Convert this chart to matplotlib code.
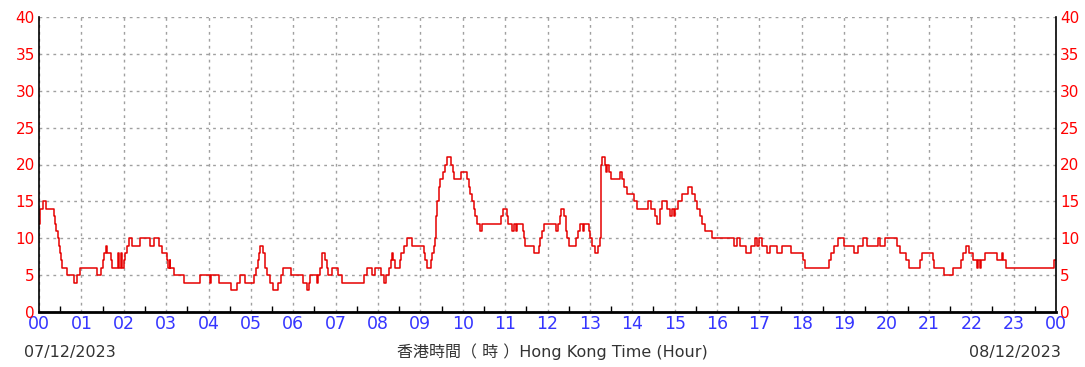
import numpy as np
import matplotlib
matplotlib.use("Agg")
import matplotlib.pyplot as plt
from matplotlib.ticker import MultipleLocator

# breakpoints of the stepped series: hour of day -> value (step holds until next point)
hours = [0.00, 0.02, 0.055, 0.094, 0.17, 0.35, 0.38, 0.41, 0.44, 0.47, 0.50, 0.52, 0.54,
         0.66, 0.82, 0.90, 0.96, 1.37, 1.46, 1.50, 1.53, 1.57, 1.61, 1.69, 1.72, 1.86,
         1.89, 1.94, 1.97, 2.00, 2.04, 2.08, 2.13, 2.20, 2.39, 2.63, 2.72, 2.83, 2.91,
         3.01, 3.04, 3.08, 3.10, 3.18, 3.43, 3.80,
         4.00, 4.03, 4.06, 4.25, 4.54, 4.68, 4.74, 4.86, 5.07, 5.13, 5.17, 5.20, 5.21,
         5.29, 5.33, 5.37, 5.45, 5.53, 5.65, 5.70, 5.76, 5.94, 6.24, 6.33, 6.36, 6.39,
         6.55, 6.59, 6.63, 6.69, 6.75, 6.79, 6.83, 6.91, 7.06, 7.14, 7.67, 7.75, 7.85,
         7.93, 7.97, 8.08, 8.14, 8.20, 8.26, 8.30, 8.33, 8.36, 8.39, 8.52, 8.55, 8.61,
         8.69, 8.81, 9.08, 9.12, 9.16, 9.24, 9.28, 9.32, 9.34, 9.37, 9.40, 9.44, 9.47,
         9.54, 9.59, 9.63, 9.73, 9.77, 9.80, 9.96, 10.10, 10.14, 10.18, 10.22, 10.26,
         10.30, 10.34, 10.40, 10.45, 10.90, 10.95, 11.04, 11.07, 11.16, 11.20, 11.25,
         11.28, 11.42, 11.45, 11.47, 11.69, 11.79, 11.83, 11.87, 11.92,
         12.20, 12.24, 12.30, 12.31, 12.40, 12.43, 12.44, 12.46, 12.50, 12.68, 12.73,
         12.77, 12.83, 12.86, 12.99, 13.01, 13.05, 13.13, 13.18, 13.23, 13.27, 13.28,
         13.35, 13.38, 13.40, 13.44, 13.50, 13.72, 13.76, 13.80, 13.87, 14.03, 14.11,
         14.37, 14.45, 14.54, 14.58, 14.65, 14.70, 14.82, 14.90, 14.94, 14.98, 15.02,
         15.09, 15.17, 15.31, 15.41, 15.49, 15.53, 15.59, 15.65, 15.72, 15.88,
         16.39, 16.47, 16.55, 16.69, 16.80, 16.90, 16.94, 16.98, 17.06, 17.19, 17.24,
         17.41, 17.53, 17.74, 18.02, 18.08, 18.65, 18.68, 18.76, 18.86, 18.99, 19.23,
         19.33, 19.45, 19.54, 19.80, 19.85, 19.96, 20.25, 20.31, 20.47, 20.54, 20.79,
         20.83, 21.10, 21.13, 21.35, 21.57, 21.76, 21.80, 21.87, 21.95, 22.05, 22.13,
         22.17, 22.20, 22.24, 22.32, 22.60, 22.72, 22.76, 22.82, 23.95, 24.00]
speed = [12, 14, 14, 15, 14, 13, 12, 11, 10, 9, 8, 7, 6,
         5, 4, 5, 6, 5, 6, 7, 8, 9, 8, 7, 6, 8,
         6, 8, 6, 7, 8, 9, 10, 9, 10, 9, 10, 9, 8,
         7, 6, 7, 6, 5, 4, 5,
         5, 4, 5, 4, 3, 4, 5, 4, 5, 6, 7, 8, 9,
         8, 6, 5, 4, 3, 4, 5, 6, 5, 4, 3, 4, 5,
         4, 5, 6, 8, 7, 6, 5, 6, 5, 4, 5, 6, 5,
         6, 6, 5, 4, 5, 6, 7, 8, 7, 6, 7, 8, 9,
         10, 9, 8, 7, 6, 7, 8, 9, 10, 13, 15, 17, 18,
         19, 20, 21, 20, 19, 18, 19, 18, 17, 16, 15, 14,
         13, 12, 11, 12, 13, 14, 13, 12, 11, 12, 11,
         12, 11, 10, 9, 8, 9, 10, 11, 12,
         11, 12, 13, 14, 13, 12, 11, 10, 9, 10, 11,
         12, 11, 12, 11, 10, 9, 8, 9, 10, 20, 21,
         20, 19, 20, 19, 18, 19, 18, 17, 16, 15, 14,
         15, 14, 13, 12, 14, 15, 14, 13, 14, 13, 14,
         15, 16, 17, 16, 15, 14, 13, 12, 11, 10,
         9, 10, 9, 8, 9, 10, 9, 10, 9, 8, 9,
         8, 9, 8, 7, 6, 7, 8, 9, 10, 9, 8,
         9, 10, 9, 10, 9, 10, 9, 8, 7, 6, 7,
         8, 7, 6, 5, 6, 7, 8, 9, 8, 7, 6,
         7, 6, 7, 8, 7, 8, 7, 6, 7, 7]

hour_labels = [f"{h % 24:02d}" for h in range(25)]
y_ticks = list(range(0, 41, 5))
date_left = "07/12/2023"
date_right = "08/12/2023"
x_title = "香港時間（ 時 ）Hong Kong Time (Hour)"

RED = "#ff0000"
BLUE = "#3535ff"
FONTS = ["DejaVu Sans", "Noto Sans CJK TC"]

fig = plt.figure(figsize=(10.85, 3.67), dpi=100)
ax = fig.add_axes([39 / 1085, 1 - 312 / 367, 1017 / 1085, 295 / 367])

ax.step(hours, speed, where="post", color="#e60000", lw=1.1)

ax.set_xlim(0, 24)
ax.set_ylim(0, 40)
ax.set_xticks(range(25))
ax.set_xticklabels(hour_labels, color=BLUE, fontsize=12.5)
ax.xaxis.set_minor_locator(MultipleLocator(0.5))
ax.set_yticks(y_ticks)
ax.set_yticklabels([str(v) for v in y_ticks], color=RED, fontsize=11)
ax.tick_params(axis="x", which="major", length=0, pad=2)
ax.tick_params(axis="x", which="minor", direction="in", length=4, width=1)
ax.tick_params(axis="y", which="major", direction="in", length=0, pad=3,
               left=True, right=True, labelleft=True, labelright=True)

ax.grid(True, which="major", color="#a0a0a0", lw=1, ls=(0, (2, 3)))
ax.spines["top"].set_visible(False)
for side in ("left", "right"):
    ax.spines[side].set_linewidth(1.2)
ax.spines["bottom"].set_linewidth(2)

fig.text(24 / 1085, 1 - 352 / 367, date_left, ha="left", va="center",
         fontsize=11.5, color="#333333", family=FONTS)
fig.text(1061 / 1085, 1 - 352 / 367, date_right, ha="right", va="center",
         fontsize=11.5, color="#333333", family=FONTS)
fig.text(552 / 1085, 1 - 352 / 367, x_title, ha="center", va="center",
         fontsize=11.5, color="#333333", family=FONTS)

fig.savefig("out.png", dpi=100)
